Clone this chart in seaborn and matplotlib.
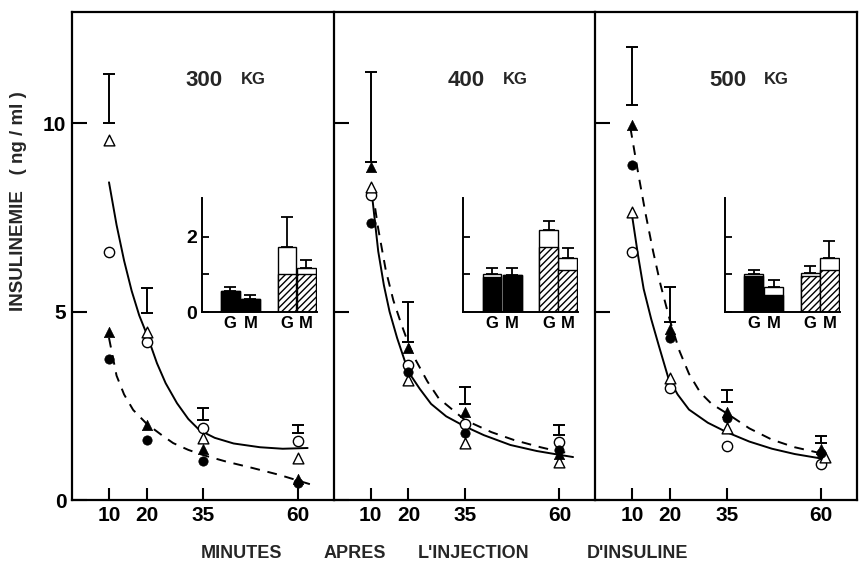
import numpy as np
import pandas as pd
import seaborn as sns
import matplotlib.pyplot as plt

# --- style ---
sns.set_theme(style="ticks")
plt.rcParams['font.family'] = ['Liberation Sans', 'DejaVu Sans']
plt.rcParams['hatch.linewidth'] = 1.0
plt.rcParams['axes.edgecolor'] = 'black'
plt.rcParams['xtick.color'] = 'black'
plt.rcParams['ytick.color'] = 'black'

# --- data ---
times = [10, 20, 35, 60]
doses = ['300', '400', '500']

# symbols: open = solid curve group, filled = dashed curve group
open_circle = [[6.58, 4.20, 1.90, 1.56],
               [8.09, 3.58, 2.03, 1.53],
               [6.59, 2.96, 1.44, 0.95]]
open_triangle = [[9.55, 4.46, 1.64, 1.11],
                 [8.30, 3.18, 1.52, 1.02],
                 [7.65, 3.23, 1.90, 1.15]]
filled_triangle = [[4.46, 2.00, 1.35, 0.56],
                   [8.83, 4.03, 2.34, 1.22],
                   [9.95, 4.55, 2.34, 1.35]]
filled_circle = [[3.74, 1.59, 1.03, 0.45],
                 [7.35, 3.40, 1.77, 1.33],
                 [8.89, 4.31, 2.17, 1.24]]
triangle_times = [[10, 20, 35, 60], [10, 20, 35, 60], [10, 20, 35, 61]]

# floating SE bars
err_lo = [[10.00, 4.96, 2.12, 1.78],
          [8.97, 4.20, 2.56, 1.72],
          [10.48, 4.73, 2.61, 1.51]]
err_hi = [[11.30, 5.62, 2.45, 2.00],
          [11.35, 5.26, 3.00, 1.99],
          [12.02, 5.66, 2.92, 1.70]]

# fitted curves
solid_t = [[10, 12, 14, 16, 18, 20, 22.7, 25, 28, 31, 34, 38, 43, 50, 56, 62.6],
           [10.5, 12, 13.5, 15, 17, 20, 23, 26, 30, 35, 40, 47, 54, 60.5, 63.6],
           [10, 11.5, 13, 15, 17, 19.5, 22, 25, 30, 35, 41, 47, 53, 59.5, 61.8]]
solid_v = [[8.43, 7.30, 6.35, 5.55, 4.90, 4.40, 3.63, 3.10, 2.57, 2.15, 1.85, 1.65, 1.50, 1.40, 1.36, 1.38],
           [7.96, 6.60, 5.70, 5.00, 4.30, 3.40, 2.95, 2.55, 2.22, 1.95, 1.72, 1.46, 1.30, 1.19, 1.14],
           [7.50, 6.50, 5.60, 4.80, 4.10, 3.25, 2.80, 2.40, 2.05, 1.80, 1.55, 1.36, 1.22, 1.11, 1.09]]
dashed_t = [[10, 12, 14, 16.4, 20, 24, 27, 31, 35, 41, 48, 55, 63.2],
            [10.5, 12, 14, 16, 18, 20, 22, 25, 28, 35, 42, 48, 55, 60.5, 63.6],
            [9.5, 11.5, 13.5, 15.5, 17.5, 20, 22.5, 25, 28, 31, 35, 41, 47, 53, 59.5, 61.5]]
dashed_v = [[4.30, 3.30, 2.80, 2.39, 2.02, 1.72, 1.51, 1.33, 1.19, 1.02, 0.85, 0.67, 0.42],
            [8.20, 7.20, 6.10, 5.30, 4.70, 4.15, 3.70, 3.15, 2.70, 2.12, 1.80, 1.59, 1.40, 1.27, 1.25],
            [9.87, 8.70, 7.60, 6.60, 5.70, 4.75, 3.95, 3.35, 2.85, 2.55, 2.30, 1.90, 1.60, 1.40, 1.25, 1.22]]

# inset bars: G, M (black) then G, M (hatched)
bar_labels = ['G', 'M', 'G', 'M']
bar_base = [[0.55, 0.35, 1.00, 1.00],
            [0.93, 0.99, 1.73, 1.13],
            [0.95, 0.46, 0.97, 1.11]]
bar_total = [[0.55, 0.35, 1.73, 1.16],
             [1.00, 0.99, 2.18, 1.44],
             [1.00, 0.67, 1.05, 1.44]]
bar_err = [[0.67, 0.45, 2.52, 1.38],
           [1.17, 1.17, 2.42, 1.69],
           [1.13, 0.85, 1.22, 1.89]]

# --- figure ---
fig = plt.figure(figsize=(8.59, 5.62), dpi=100)
axes = fig.subplots(1, 3, sharey=True)
fig.subplots_adjust(left=72/859, right=857/859, top=1-12/562, bottom=1-500/562, wspace=0)

bar_pos = [1.5, 2.55, 4.45, 5.45]

for i, ax in enumerate(axes):
    # curves
    sns.lineplot(x=solid_t[i], y=solid_v[i], ax=ax, color='black', lw=1.4,
                 estimator=None, sort=False)
    sns.lineplot(x=dashed_t[i], y=dashed_v[i], ax=ax, color='black', lw=1.4,
                 estimator=None, sort=False, dashes=False, linestyle=(0, (5, 4)))

    # SE bars
    lo = np.array(err_lo[i])
    hi = np.array(err_hi[i])
    ax.errorbar(times, (lo + hi) / 2, yerr=(hi - lo) / 2, fmt='none',
                ecolor='black', elinewidth=1.4, capsize=4, capthick=1.4)

    # symbols
    sns.scatterplot(x=times, y=open_circle[i], ax=ax, marker='o', s=55,
                    color='white', edgecolor='black', linewidth=1.0, zorder=5)
    sns.scatterplot(x=triangle_times[i], y=open_triangle[i], ax=ax, marker='^', s=60,
                    color='white', edgecolor='black', linewidth=1.0, zorder=5)
    sns.scatterplot(x=times, y=filled_triangle[i], ax=ax, marker='^', s=55,
                    color='black', edgecolor='black', linewidth=0.5, zorder=5)
    sns.scatterplot(x=times, y=filled_circle[i], ax=ax, marker='o', s=45,
                    color='black', edgecolor='black', linewidth=0.5, zorder=5)

    ax.set_xlim(0.2, 69.5)
    ax.set_ylim(0, 12.95)
    ax.set_xticks(times)
    ax.set_xticklabels([str(t) for t in times], fontsize=15, fontweight='bold')
    ax.set_yticks([0, 5, 10])
    ax.set_yticklabels(['0', '5', '10'], fontsize=15, fontweight='bold')
    ax.tick_params(axis='x', direction='in', length=9, width=1.5, pad=4)
    ax.tick_params(axis='y', direction='in', length=11, width=1.5, pad=4)
    if i > 0:
        ax.tick_params(axis='y', labelleft=False)
    for side in ['left', 'bottom', 'top', 'right']:
        ax.spines[side].set_linewidth(1.6)
    if i < 2:
        ax.spines['right'].set_visible(False)
    ax.set_xlabel('')
    ax.set_ylabel('')

    # dose label
    ax.text(0.435, 0.86, doses[i], transform=ax.transAxes, fontsize=16,
            fontweight='bold', ha='left', va='center')
    ax.text(0.645, 0.862, 'KG', transform=ax.transAxes, fontsize=12,
            fontweight='bold', ha='left', va='center')

    # inset bar chart
    ins = ax.inset_axes([0.495, 0.385, 0.44, 0.234])
    ins.set_facecolor('none')
    base = np.array(bar_base[i])
    total = np.array(bar_total[i])
    err = np.array(bar_err[i])
    ins.bar(bar_pos[:2], total[:2], width=0.98, color='white', edgecolor='black', lw=1.0)
    ins.bar(bar_pos[:2], base[:2], width=0.98, color='black', edgecolor='black', lw=1.0)
    ins.bar(bar_pos[2:], total[2:], width=0.98, color='white', edgecolor='black', lw=1.0)
    ins.bar(bar_pos[2:], base[2:], width=0.98, color='white', edgecolor='black',
            hatch='/////', lw=1.0)
    ins.errorbar(bar_pos, total, yerr=[np.zeros(4), err - total], fmt='none',
                 ecolor='black', elinewidth=1.3, capsize=4, capthick=1.3)
    ins.set_xlim(0, 6)
    ins.set_ylim(0, 3.03)
    ins.set_xticks(bar_pos)
    ins.set_xticklabels(bar_labels, fontsize=12, fontweight='bold')
    ins.tick_params(axis='x', length=0, pad=3)
    ins.set_yticks([0, 1, 2])
    if i == 0:
        ins.set_yticklabels(['0', '', '2'], fontsize=14, fontweight='bold')
    else:
        ins.set_yticklabels(['', '', ''])
    ins.tick_params(axis='y', direction='in', length=5, width=1.3, pad=3)
    ins.spines['top'].set_visible(False)
    ins.spines['right'].set_visible(False)
    ins.spines['left'].set_linewidth(1.4)
    ins.spines['bottom'].set_linewidth(1.4)

# axis titles
fig.text(19/859, 1 - 201/562, 'INSULINEMIE   ( ng / ml )', rotation=90,
         fontsize=13.5, fontweight='bold', ha='center', va='center')
for word, xc in [('MINUTES', 241), ('APRES', 355), ("L'INJECTION", 474), ("D'INSULINE", 638)]:
    fig.text(xc/859, 1 - 554/562, word, fontsize=13, fontweight='bold',
             ha='center', va='center')

fig.savefig('out.png', dpi=100)
